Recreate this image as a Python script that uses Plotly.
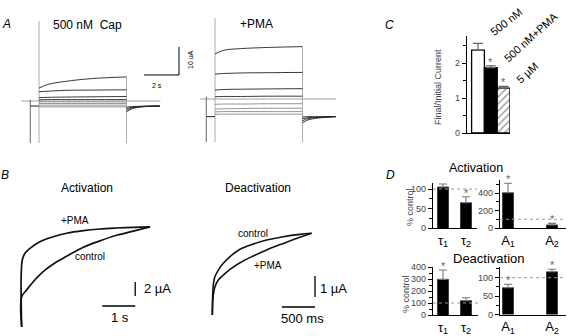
import plotly.graph_objects as go

W, H = 568, 336
FONT = "Liberation Sans, Arial, Helvetica, sans-serif"

# ===================== DATA =====================
# ---- Panel A: current families (µA) vs time (s) ----
A_STEP_TIME = [0.0, 0.5, 1.5, 3.0, 5.0]
A_CAP_STEPS = [
    [4.6, 5.9, 7.0, 8.0, 8.6],
    [3.3, 3.5, 3.8, 3.9, 4.0],
    [1.2, 1.3, 1.4, 1.5, 1.6],
    [0.4, 0.5, 0.5, 0.5, 0.5],
    [-0.3, -0.3, -0.3, -0.3, -0.3],
    [-0.9, -0.9, -0.9, -0.9, -0.9],
    [-1.5, -1.5, -1.5, -1.5, -1.5],
    [-2.1, -2.1, -2.1, -2.1, -2.1],
]
A_PMA_STEPS = [
    [16.1, 17.4, 18.0, 18.4, 18.7],
    [8.9, 9.1, 9.3, 9.4, 9.5],
    [3.2, 3.4, 3.5, 3.6, 3.7],
    [0.8, 0.9, 0.9, 1.0, 1.0],
    [-1.9, -1.8, -1.8, -1.7, -1.7],
    [-3.6, -3.5, -3.4, -3.3, -3.3],
    [-4.6, -4.5, -4.5, -4.5, -4.5],
    [-5.5, -5.4, -5.4, -5.4, -5.4],
]
A_TAIL_TIME = [5.0, 5.3, 5.9, 6.9]
A_CAP_TAILS = [
    [-3.9, -2.8, -2.1, -1.8],
    [-3.3, -2.5, -2.0, -1.8],
    [-2.7, -2.2, -1.9, -1.8],
    [-2.2, -2.0, -1.9, -1.8],
]
A_PMA_TAILS = [
    [-8.5, -7.5, -6.8, -6.3],
    [-7.8, -7.0, -6.6, -6.3],
    [-7.0, -6.7, -6.5, -6.3],
    [-6.4, -6.3, -6.3, -6.3],
]
A_CAP_HOLD = -1.8
A_PMA_HOLD = -6.3
A_PREPULSE_T = -0.5
A_PULSE_T = [0.0, 5.0]
A_CAP_ARTIFACT = [28.6, -15.0]
A_PMA_ARTIFACT = [28.9, -15.4]
A_CAP_ZERO_T = [-1.03, 6.94]
A_PMA_ZERO_T = [-0.86, 6.91]
A_SCALE = (2.0, 10.0)            # 2 s, 10 µA

# ---- Panel B: activation / deactivation time courses ----
B_ACT_CTRL_T = [0, 0, 0.15, 0.35, 0.65, 0.96, 1.36, 1.87, 2.37, 2.88, 3.38, 3.89]
B_ACT_CTRL_I = [0, 4.33, 5.29, 6.47, 7.9, 9.0, 10.1, 11.4, 12.3, 13.1, 13.7, 14.3]
B_ACT_PMA_T = [0, 0.018, 0.10, 0.25, 0.55, 0.96, 1.36, 1.87, 2.37, 2.88, 3.38, 3.89]
B_ACT_PMA_I = [0, 9.57, 10.53, 11.24, 12.19, 12.9, 13.39, 13.76, 14.0, 14.14, 14.24, 14.3]
B_ACT_SCALE = (1.0, 2.0)         # 1 s, 2 µA

B_DEACT_T = [0, 0.015, 0.04, 0.091, 0.167, 0.268, 0.42, 0.621, 0.823, 1.076, 1.328, 1.505]
B_DEACT_CTRL_I = [0, 1.43, 1.83, 2.14, 2.46, 2.78, 3.13, 3.38, 3.57, 3.73, 3.84, 3.89]
B_DEACT_PMA_I = [0, 0.95, 1.35, 1.67, 1.90, 2.17, 2.49, 2.81, 3.10, 3.41, 3.70, 3.89]
B_DEACT_SCALE = (0.5, 1.0)       # 500 ms, 1 µA

# ---- Panel C ----
C_CATS = ["500 nM", "500 nM+PMA", "5 µM"]
C_VALUES = [2.37, 1.87, 1.28]
C_ERRORS = [0.19, 0.05, 0.05]
C_SIG = [False, True, True]

# ---- Panel D ----
D_TAU_LABELS = ["τ<sub>1</sub>", "τ<sub>2</sub>"]
D_AMP_LABELS = ["A<sub>1</sub>", "A<sub>2</sub>"]
D_ACT_TAU, D_ACT_TAU_ERR, D_ACT_TAU_SIG = [105, 65], [8, 15], [False, True]
D_ACT_AMP, D_ACT_AMP_ERR, D_ACT_AMP_SIG = [403, 35], [108, 18], [True, True]
D_DEACT_TAU, D_DEACT_TAU_ERR, D_DEACT_TAU_SIG = [297, 120], [78, 24], [True, False]
D_DEACT_AMP, D_DEACT_AMP_ERR, D_DEACT_AMP_SIG = [73, 116], [9, 7], [True, True]
D_CONTROL_LEVEL = 100

# ===================== LAYOUT HELPERS =====================
layout = dict(
    width=W, height=H, margin=dict(l=0, r=0, t=0, b=0, autoexpand=False),
    paper_bgcolor="white", plot_bgcolor="rgba(0,0,0,0)",
    showlegend=False, font=dict(family=FONT, color="black"),
    annotations=[], shapes=[],
)


def ids(i):
    return ("x", "y") if i == 1 else (f"x{i}", f"y{i}")


def calib(i, box, xmap, ymap, xextra=None, yextra=None):
    px0, px1, py0, py1 = box
    x0, xs = xmap
    y0, ys = ymap
    xr = [(px0 - x0) / xs, (px1 - x0) / xs]
    yr = [(y0 - py1) / ys, (y0 - py0) / ys]
    xid, yid = ids(i)
    base = dict(fixedrange=True, showgrid=False, zeroline=False, automargin=False)
    xa = dict(base, domain=[px0 / W, px1 / W], range=xr, anchor=yid)
    ya = dict(base, domain=[1 - py1 / H, 1 - py0 / H], range=yr, anchor=xid)
    if xextra is None:
        xa["visible"] = False
    else:
        xa.update(xextra)
    if yextra is None:
        ya["visible"] = False
    else:
        ya.update(yextra)
    layout["xaxis" if i == 1 else f"xaxis{i}"] = xa
    layout["yaxis" if i == 1 else f"yaxis{i}"] = ya


def text(px, py, s, size=11, color="black", angle=0, xanchor="center", yanchor="middle", italic=False):
    layout["annotations"].append(dict(
        x=px / W, y=1 - py / H, xref="paper", yref="paper", text=s, showarrow=False,
        textangle=angle, xanchor=xanchor, yanchor=yanchor,
        font=dict(size=size, color=color, family=FONT, style="italic" if italic else "normal"),
    ))


traces = []


def line(i, x, y, color="black", width=1.0, shape="linear"):
    xid, yid = ids(i)
    traces.append(go.Scatter(x=x, y=y, mode="lines", xaxis=xid, yaxis=yid,
                             line=dict(color=color, width=width, shape=shape),
                             hoverinfo="skip"))


def star(i, x, y):
    xid, yid = ids(i)
    layout["annotations"].append(dict(x=x, y=y, xref=xid, yref=yid, text="*", showarrow=False,
                                      yanchor="middle", yshift=4, font=dict(size=11, color="#666")))


# ===================== PANEL A =====================
calib(1, (10, 205, 8, 152), (39, 17.5), (101, 2.8))
calib(2, (195, 348, 8, 152), (215, 17.5), (99, 2.8))

for i, steps, tails, hold, art, zt in [
    (1, A_CAP_STEPS, A_CAP_TAILS, A_CAP_HOLD, A_CAP_ARTIFACT, A_CAP_ZERO_T),
    (2, A_PMA_STEPS, A_PMA_TAILS, A_PMA_HOLD, A_PMA_ARTIFACT, A_PMA_ZERO_T),
]:
    line(i, zt, [0, 0], color="#8a8a8a", width=0.8)
    line(i, [A_PULSE_T[0]] * 2, art, color="#9a9a9a", width=0.8)
    line(i, [A_PULSE_T[1]] * 2, [steps[0][-1], art[1]], color="#9a9a9a", width=0.8)
    line(i, [A_PREPULSE_T] * 2, [steps[3][0], art[1]], color="#555", width=0.9)
    line(i, [A_PREPULSE_T, A_PULSE_T[0]], [hold, hold], color="#222", width=1.0)
    for k, s in enumerate(steps):
        col = "#222" if k < 4 else "#888"
        line(i, A_STEP_TIME, s, color=col, width=0.9, shape="spline")
    for s in tails:
        line(i, A_TAIL_TIME, s, color="#222", width=0.9, shape="spline")

# scale bar in A (left panel)
sb_t, sb_i = 8.0, 9.3
line(1, [sb_t - A_SCALE[0], sb_t, sb_t], [sb_i, sb_i, sb_i + A_SCALE[1]], color="black", width=1.0)
text(190, 60, "10 uA", size=7, angle=-90)
text(157, 85, "2 s", size=7)

text(6, 24, "A", size=12, italic=True)
text(87, 25, "500 nM  Cap", size=12)
text(256, 24, "+PMA", size=12)

# ===================== PANEL B =====================
calib(3, (0, 200, 170, 336), (21.7, 33), (327, 7))
calib(4, (200, 385, 170, 336), (212.3, 66), (315, 21))

line(3, B_ACT_CTRL_T, B_ACT_CTRL_I, color="#111", width=1.7, shape="spline")
line(3, B_ACT_PMA_T, B_ACT_PMA_I, color="#111", width=1.7, shape="spline")
st, si = 3.44, 4.43
line(3, [st, st], [si, si + B_ACT_SCALE[1]], width=1.3)
line(3, [st - B_ACT_SCALE[0], st], [3.0, 3.0], width=1.3)

line(4, B_DEACT_T, B_DEACT_CTRL_I, color="#111", width=1.6, shape="spline")
line(4, B_DEACT_T, B_DEACT_PMA_I, color="#111", width=1.6, shape="spline")
st, si = 1.556, 0.857
line(4, [st, st], [si, si + B_DEACT_SCALE[1]], width=1.3)
line(4, [st - B_DEACT_SCALE[0], st], [0.381, 0.381], width=1.3)

text(5, 175, "B", size=12, italic=True)
text(87, 188, "Activation", size=12)
text(75, 220, "+PMA", size=10)
text(90, 256, "control", size=10)
text(142, 288, "2 µA", size=13, xanchor="left")
text(120, 317, "1 s", size=13)
text(258, 188, "Deactivation", size=12)
text(253, 233, "control", size=10)
text(268, 265, "+PMA", size=10)
text(318, 288, "1 µA", size=13, xanchor="left")
text(302, 318, "500 ms", size=13)

# ===================== PANEL C =====================
ytick = dict(visible=True, showline=True, linecolor="black", linewidth=1.3,
             ticks="outside", ticklen=4, tickwidth=1.2, tickcolor="black",
             tickfont=dict(size=9, color="#444"))
xbase = dict(visible=True, showline=True, linecolor="black", linewidth=1.3,
             ticks="", showticklabels=False)

calib(5, (467, 510, 36, 133), (478, 12.8), (133, 35), xbase,
      dict(ytick, tickvals=[0, 1, 2],
           minor=dict(dtick=0.5, ticks="outside", ticklen=3, tickcolor="black", tickwidth=1)))
cx = list(range(len(C_CATS)))
traces.append(go.Bar(
    x=cx, y=C_VALUES, width=1.0, xaxis="x5", yaxis="y5",
    marker=dict(color=["white", "black", "white"],
                line=dict(color="black", width=1.3),
                pattern=dict(shape=["", "", "/"], fgcolor="black", size=5, solidity=0.3)),
    error_y=dict(type="data", array=C_ERRORS, arrayminus=[0] * 3, color="#666", thickness=1.2, width=5),
    hoverinfo="skip",
))
for x, v, e, s in zip(cx, C_VALUES, C_ERRORS, C_SIG):
    if s:
        star(5, x, v + e)
text(389, 25, "C", size=12, italic=True)
text(438, 87, "Final/Initial Current", size=9, color="#444", angle=-90)
text(506, 22, C_CATS[0], size=11, angle=-38)
text(531, 37, C_CATS[1], size=11, angle=-42)
text(527, 73, C_CATS[2], size=11, angle=-42)

# ===================== PANEL D =====================
dxt = dict(visible=True, showline=True, linecolor="black", linewidth=1.3, ticks="",
           tickfont=dict(size=13, color="black"), tickvals=[0, 1])


def dbar(i, vals, errs, sig, width):
    xid, yid = ids(i)
    traces.append(go.Bar(
        x=[0, 1], y=vals, width=width, xaxis=xid, yaxis=yid,
        marker=dict(color="black", line=dict(color="black", width=0.5)),
        error_y=dict(type="data", array=errs, arrayminus=[0, 0], color="#777", thickness=1.1, width=4),
        hoverinfo="skip", cliponaxis=False,
    ))
    layout["shapes"].append(dict(type="line", xref=f"{xid} domain", yref=yid, x0=0, x1=1,
                                 y0=D_CONTROL_LEVEL, y1=D_CONTROL_LEVEL,
                                 line=dict(color="#999", width=1, dash="dot")))
    for x, v, e, s in zip([0, 1], vals, errs, sig):
        if s:
            star(i, x, v + e)


def ymin(dt):
    return dict(dtick=dt, ticks="outside", ticklen=3, tickcolor="black", tickwidth=1)


calib(6, (433, 477, 183, 228), (443, 23), (228, 0.39), dict(dxt, ticktext=D_TAU_LABELS),
      dict(ytick, tickvals=[0, 50, 100], minor=ymin(25)))
dbar(6, D_ACT_TAU, D_ACT_TAU_ERR, D_ACT_TAU_SIG, 0.48)

calib(7, (500, 566, 180, 228), (508, 44), (228, 0.0875), dict(dxt, ticktext=D_AMP_LABELS),
      dict(ytick, tickvals=[0, 200, 400], minor=ymin(100)))
dbar(7, D_ACT_AMP, D_ACT_AMP_ERR, D_ACT_AMP_SIG, 0.25)

calib(8, (433, 478, 267, 315), (443, 23), (315, 0.12), dict(dxt, ticktext=D_TAU_LABELS),
      dict(ytick, tickvals=[0, 100, 200, 300, 400], minor=ymin(50)))
dbar(8, D_DEACT_TAU, D_DEACT_TAU_ERR, D_DEACT_TAU_SIG, 0.48)

calib(9, (500, 566, 266.7, 314.5), (508, 44), (314.5, 0.368), dict(dxt, ticktext=D_AMP_LABELS),
      dict(ytick, tickvals=[0, 50, 100], minor=ymin(25)))
dbar(9, D_DEACT_AMP, D_DEACT_AMP_ERR, D_DEACT_AMP_SIG, 0.25)

text(390, 175, "D", size=12, italic=True)
text(476, 168, "Activation", size=12.5)
text(489, 258, "Deactivation", size=13)
text(410, 207, "% control", size=9, color="#444", angle=-90)
text(406, 294, "% control", size=9, color="#444", angle=-90)

fig = go.Figure(data=traces, layout=layout)
fig.write_html("out.html", config={"displayModeBar": False},
               post_script="document.body.style.margin='0px';document.body.style.overflow='hidden';")
